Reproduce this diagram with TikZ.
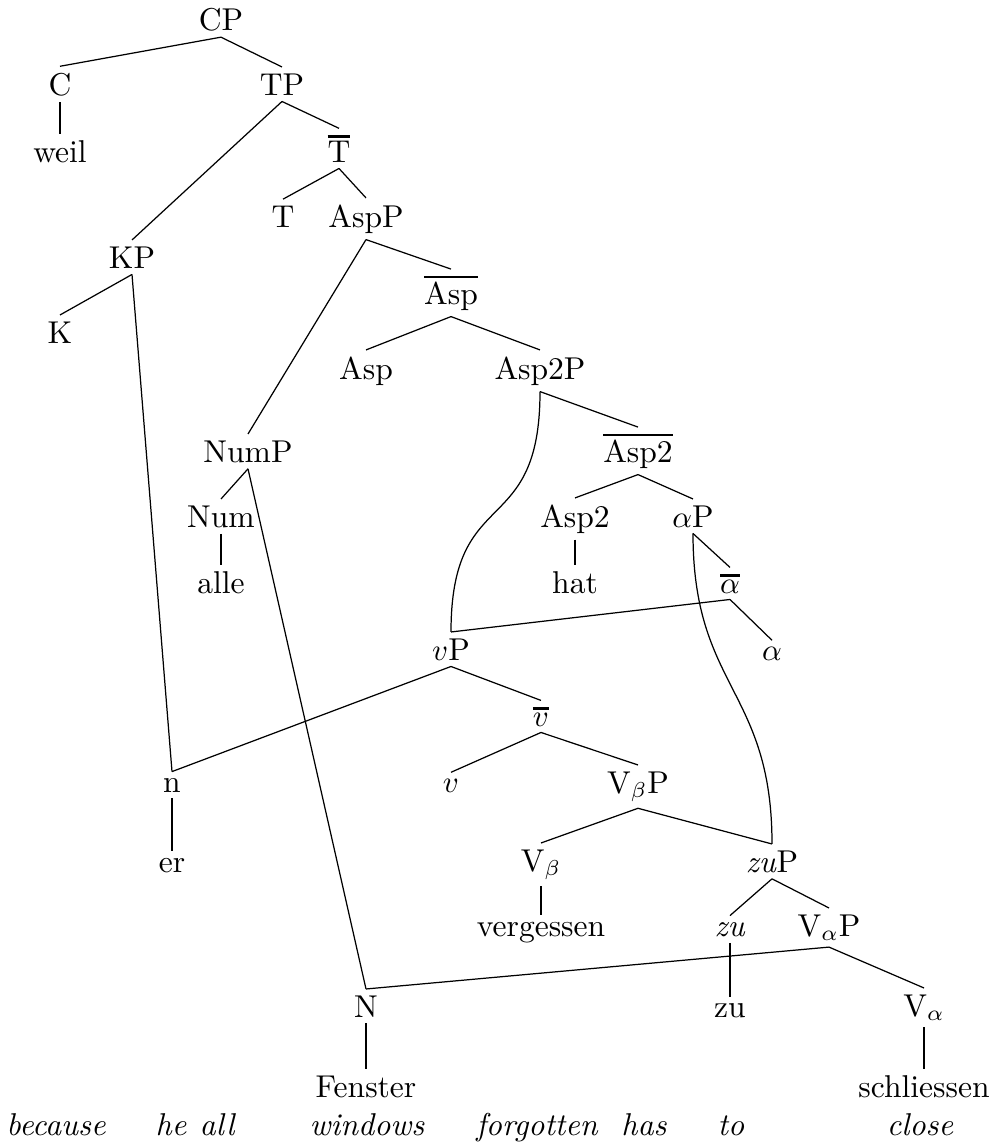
\documentclass[tikz,border=0pt]{standalone}
\newcommand\xbar[1]{\vbox{\hrule height 0.9pt\kern 1pt\hbox{#1}}}
\newcommand\treefont{\fontsize{10.25pt}{12pt}\selectfont}
\tikzset{
  lab/.style={anchor=base, inner xsep=0pt, inner ysep=1.9pt, font=\treefont},
  gl/.style={anchor=base, inner sep=0pt, font=\treefont\itshape},
  br/.style={line width=0.4pt}
}
\begin{document}
\begin{tikzpicture}[x=0.3247pt, y=-0.3247pt]
\useasboundingbox (0,0) rectangle (990,1142);
% nodes
\node[lab] (cp) at (221,30) {CP};
\node[lab] (c) at (60,95) {C};
\node[lab] (tp) at (282,95) {TP};
\node[lab] (weil) at (60,162) {weil};
\node[lab] (tbar) at (339,162) {\xbar{T}};
\node[lab] (t) at (283,227) {T};
\node[lab] (aspp) at (366,227) {AspP};
\node[lab] (kp) at (132,268) {KP};
\node[lab] (aspbar) at (451,304) {\xbar{Asp}};
\node[lab] (k) at (60,343) {K};
\node[lab] (asp) at (366,379) {Asp};
\node[lab] (asp2p) at (540,379) {Asp2P};
\node[lab] (nump) at (248,462) {NumP};
\node[lab] (asp2bar) at (638,462) {\xbar{Asp2}};
\node[lab] (num) at (221,527) {Num};
\node[lab] (asp2) at (575,527) {Asp2};
\node[lab] (alphap) at (693,527) {$\alpha$P};
\node[lab] (alle) at (221,593) {alle};
\node[lab] (hat) at (575,593) {hat};
\node[lab] (alphabar) at (730,593) {\xbar{$\alpha$}};
\node[lab] (vp) at (451,660) {$v$P};
\node[lab] (alpha) at (772,660) {$\alpha$};
\node[lab] (vbar) at (541,726) {\xbar{$v$}};
\node[lab] (n) at (172,792) {n};
\node[lab] (v) at (451,792) {$v$};
\node[lab] (vbp) at (638,793) {V$_\beta$P};
\node[lab] (er) at (172,872) {er};
\node[lab] (vb) at (541,871) {V$_\beta$};
\node[lab] (zup) at (772,872) {\textit{zu}P};
\node[lab] (verg) at (541,936) {vergessen};
\node[lab] (zuh) at (730,936) {\textit{zu}};
\node[lab] (vap) at (829,936) {V$_\alpha$P};
\node[lab] (nN) at (366,1017) {N};
\node[lab] (zu) at (730,1017) {zu};
\node[lab] (va) at (924,1016) {V$_\alpha$};
\node[lab] (fenster) at (366,1097) {Fenster};
\node[lab] (schl) at (924,1097) {schliessen};
% gloss
\node[gl] (g1) at (56,1135) {because};
\node[gl] (g2) at (171,1135) {he};
\node[gl] (g3) at (217,1135) {all};
\node[gl] (g4) at (367,1135) {windows};
\node[gl] (g5) at (537,1135) {forgotten};
\node[gl] (g6) at (644,1135) {has};
\node[gl] (g7) at (731,1135) {to};
\node[gl] (g8) at (920,1135) {close};
% edges
\draw[br] (cp.south) -- (c.north);
\draw[br] (cp.south) -- (tp.north);
\draw[br] (c.south) -- (weil.north);
\draw[br] (tp.south) -- (kp.north);
\draw[br] (tp.south) -- (tbar.north);
\draw[br] (tbar.south) -- (t.north);
\draw[br] (tbar.south) -- (aspp.north);
\draw[br] (aspp.south) -- (nump.north);
\draw[br] (aspp.south) -- (aspbar.north);
\draw[br] (kp.south) -- (k.north);
\draw[br] (kp.south) -- (n.north);
\draw[br] (aspbar.south) -- (asp.north);
\draw[br] (aspbar.south) -- (asp2p.north);
\draw[br] (asp2p.south) .. controls +(0,150) and +(0,-150) .. (vp.north);
\draw[br] (asp2p.south) -- (asp2bar.north);
\draw[br] (nump.south) -- (num.north);
\draw[br] (nump.south) -- (nN.north);
\draw[br] (num.south) -- (alle.north);
\draw[br] (asp2bar.south) -- (asp2.north);
\draw[br] (asp2bar.south) -- (alphap.north);
\draw[br] (asp2.south) -- (hat.north);
\draw[br] (alphap.south) -- (alphabar.north);
\draw[br] (alphap.south) .. controls +(0,155) and +(0,-155) .. (zup.north);
\draw[br] (alphabar.south) -- (vp.north);
\draw[br] (alphabar.south) -- (alpha.north);
\draw[br] (vp.south) -- (n.north);
\draw[br] (vp.south) -- (vbar.north);
\draw[br] (vbar.south) -- (v.north);
\draw[br] (vbar.south) -- (vbp.north);
\draw[br] (n.south) -- (er.north);
\draw[br] (vbp.south) -- (vb.north);
\draw[br] (vbp.south) -- (zup.north);
\draw[br] (vb.south) -- (verg.north);
\draw[br] (zup.south) -- (zuh.north);
\draw[br] (zup.south) -- (vap.north);
\draw[br] (zuh.south) -- (zu.north);
\draw[br] (vap.south) -- (nN.north);
\draw[br] (vap.south) -- (va.north);
\draw[br] (nN.south) -- (fenster.north);
\draw[br] (va.south) -- (schl.north);
\end{tikzpicture}
\end{document}
